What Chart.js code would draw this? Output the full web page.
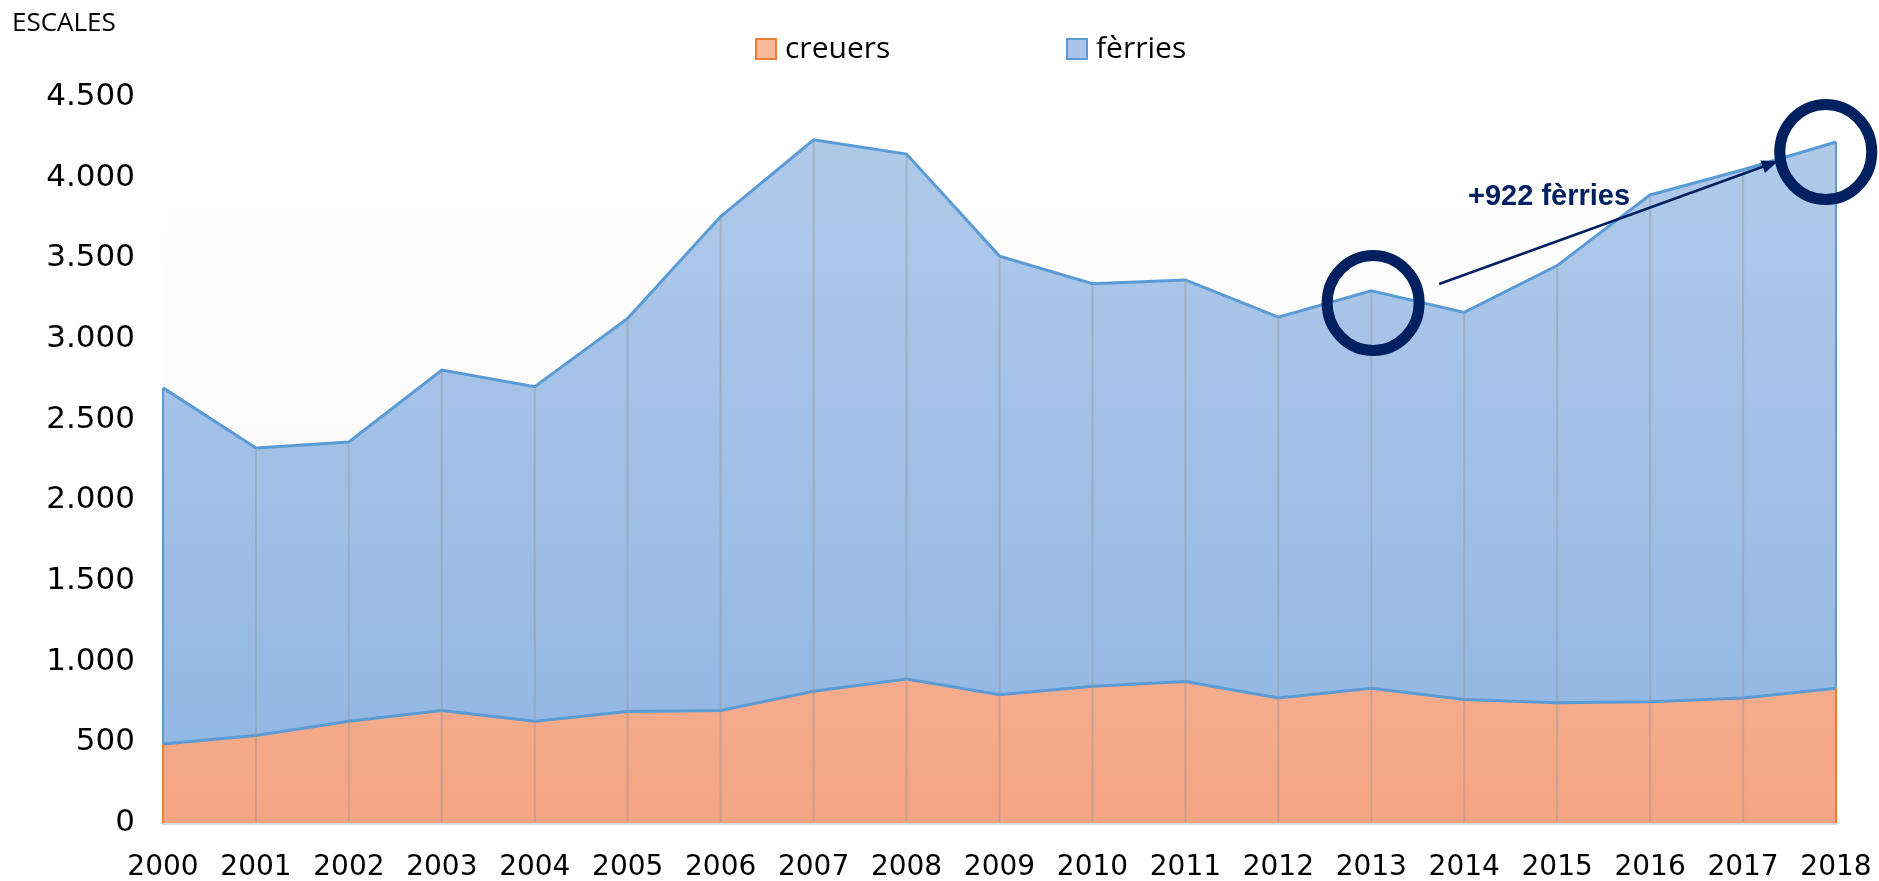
<!DOCTYPE html>
<html>
<head>
<meta charset="utf-8">
<script src="https://cdn.jsdelivr.net/npm/chart.js@4/dist/chart.umd.min.js"></script>
<style>
  html, body { margin: 0; padding: 0; background: #fff; }
</style>
</head>
<body>
<canvas id="chart" width="1879" height="881"></canvas>
<script>
// -----------------------------
// Data
// -----------------------------
const years = ["2000", "2001", "2002", "2003", "2004", "2005", "2006", "2007", "2008", "2009",
  "2010", "2011", "2012", "2013", "2014", "2015", "2016", "2017", "2018"]

const cruiseCalls = [490, 542, 631, 698, 631, 691, 698, 817, 892, 795,
  847, 877, 775, 835, 765, 745, 752, 775, 835]

const ferryCalls = [2207, 1783, 1731, 2110, 2073, 2437, 3061, 3418, 3254, 2719,
  2496, 2489, 2360, 2464, 2400, 2710, 3141, 3274, 3386]

const seriesNames = ["creuers", "fèrries"]
const yTicks = [0, 500, 1000, 1500, 2000, 2500, 3000, 3500, 4000, 4500]

// annotation anchors, in (category index, value) space
const ringAnchors = [[13.02, 3223], [17.89, 4159]]
const arrowFrom = [13.73, 3341]
const arrowTo = [17.38, 4103]
const noteText = "+922 fèrries"

// -----------------------------
// Helpers
// -----------------------------
const FONT = "'Open Sans', 'Noto Sans', sans-serif"
const TICK_FONT = "'DejaVu Sans', sans-serif"
const NAVY = "#002060"

function fmt(v) {
  return String(v).replace(/\B(?=(\d{3})+(?!\d))/g, ".")
}

function vGradient(ctx, area, top, bottom) {
  const g = ctx.createLinearGradient(0, area.top, 0, area.bottom)
  g.addColorStop(0, top)
  g.addColorStop(1, bottom)
  return g
}

function blueFill(c) {
  const a = c.chart.chartArea
  if (!a) return "#a7c3e7"
  return vGradient(c.chart.ctx, a, "#b2cbea", "#8fb5e2")
}

function orangeFill(c) {
  const a = c.chart.chartArea
  if (!a) return "#f6b496"
  return vGradient(c.chart.ctx, a, "#fad0bd", "#f4a482")
}

// -----------------------------
// Plugins
// -----------------------------
const plotBg = {
  id: "plotBg",
  beforeDatasetsDraw(chart) {
    const { ctx, chartArea: a } = chart
    ctx.save()
    ctx.fillStyle = vGradient(ctx, a, "#ffffff", "#f5f5f5")
    ctx.fillRect(a.left, a.top, a.right - a.left, a.bottom - a.top)
    ctx.restore()
  }
}

const dropLines = {
  id: "dropLines",
  afterDatasetsDraw(chart) {
    const { ctx } = chart
    const low = chart.getDatasetMeta(0).data
    const high = chart.getDatasetMeta(1).data
    const bottom = chart.scales.y.getPixelForValue(0)
    const last = high.length - 1
    ctx.save()
    ctx.lineWidth = 2
    high.forEach((p, i) => {
      if (i === 0 || i === last) return
      ctx.strokeStyle = "rgba(150,150,150,0.45)"
      ctx.beginPath()
      ctx.moveTo(p.x, p.y + 2)
      ctx.lineTo(p.x, bottom)
      ctx.stroke()
    })
    ;[0, last].forEach(i => {
      ctx.strokeStyle = "#5b9bd5"
      ctx.beginPath()
      ctx.moveTo(high[i].x, high[i].y)
      ctx.lineTo(high[i].x, low[i].y)
      ctx.stroke()
      ctx.strokeStyle = "#ed7d31"
      ctx.beginPath()
      ctx.moveTo(low[i].x, low[i].y)
      ctx.lineTo(low[i].x, bottom)
      ctx.stroke()
    })
    ctx.restore()
  }
}

const notes = {
  id: "notes",
  afterDatasetsDraw(chart) {
    const { ctx, scales: { x, y } } = chart
    const px = v => {
      const i = Math.floor(v)
      const a = x.getPixelForValue(i)
      const b = x.getPixelForValue(i + 1)
      return a + (b - a) * (v - i)
    }
    ctx.save()
    ctx.strokeStyle = NAVY
    ctx.lineWidth = 11
    ringAnchors.forEach(([vx, vy]) => {
      ctx.beginPath()
      ctx.ellipse(px(vx), y.getPixelForValue(vy), 46, 47.5, 0, 0, Math.PI * 2)
      ctx.stroke()
    })

    const x1 = px(arrowFrom[0]), y1 = y.getPixelForValue(arrowFrom[1])
    const x2 = px(arrowTo[0]), y2 = y.getPixelForValue(arrowTo[1])
    const ang = Math.atan2(y2 - y1, x2 - x1)
    const head = 18
    ctx.lineWidth = 2.5
    ctx.beginPath()
    ctx.moveTo(x1, y1)
    ctx.lineTo(x2 - Math.cos(ang) * head * 0.8, y2 - Math.sin(ang) * head * 0.8)
    ctx.stroke()
    ctx.fillStyle = NAVY
    ctx.beginPath()
    ctx.moveTo(x2, y2)
    ctx.lineTo(x2 - head * Math.cos(ang - 0.38), y2 - head * Math.sin(ang - 0.38))
    ctx.lineTo(x2 - head * Math.cos(ang + 0.38), y2 - head * Math.sin(ang + 0.38))
    ctx.closePath()
    ctx.fill()

    ctx.font = "bold 29px 'Liberation Sans', Arial, sans-serif"
    ctx.textBaseline = "middle"
    ctx.textAlign = "left"
    ctx.fillText(noteText, 1468, 197)

    // axis title
    ctx.fillStyle = "#000"
    ctx.font = "26px " + FONT
    ctx.fillText("ESCALES", 12, 24)
    ctx.restore()
  }
}

const legendRow = {
  id: "legendRow",
  afterDraw(chart) {
    const { ctx } = chart
    const items = [
      { x: 755, fill: "#f8b99c", stroke: "#ed7d31" },
      { x: 1066, fill: "#a9c4e8", stroke: "#5b9bd5" }
    ]
    ctx.save()
    ctx.font = "30px " + FONT
    ctx.textBaseline = "middle"
    items.forEach((it, i) => {
      ctx.fillStyle = it.fill
      ctx.fillRect(it.x, 38, 22, 22)
      ctx.strokeStyle = it.stroke
      ctx.lineWidth = 2
      ctx.strokeRect(it.x + 1, 39, 20, 20)
      ctx.fillStyle = "#000"
      ctx.fillText(seriesNames[i], it.x + 30, 49)
    })
    ctx.restore()
  }
}

// -----------------------------
// Chart
// -----------------------------
new Chart(document.getElementById("chart"), {
  type: "line",
  data: {
    labels: years,
    datasets: [
      {
        label: seriesNames[0],
        data: cruiseCalls,
        fill: "origin",
        backgroundColor: orangeFill,
        borderColor: "#5b9bd5",
        borderWidth: 3,
        pointRadius: 0,
        tension: 0
      },
      {
        label: seriesNames[1],
        data: ferryCalls,
        fill: "-1",
        backgroundColor: blueFill,
        borderColor: "#5b9bd5",
        borderWidth: 3,
        pointRadius: 0,
        tension: 0
      }
    ]
  },
  options: {
    responsive: false,
    animation: false,
    devicePixelRatio: 1,
    layout: { padding: { left: 0, top: 97, right: 43, bottom: 0 } },
    plugins: {
      legend: { display: false },
      tooltip: { enabled: false }
    },
    scales: {
      x: {
        grid: { display: false, drawTicks: false },
        border: { display: true, color: "#d9d9d9", width: 3 },
        ticks: {
          color: "#000",
          font: { family: TICK_FONT, size: 28 },
          padding: 28,
          maxRotation: 0,
          autoSkip: false
        },
        afterFit(s) {
          s.height = 58
          s.paddingLeft = 0
          s.paddingRight = 0
        }
      },
      y: {
        stacked: true,
        min: 0,
        max: 4500,
        afterBuildTicks(s) { s.ticks = yTicks.map(v => ({ value: v })) },
        grid: { display: false, drawTicks: false },
        border: { display: false },
        ticks: {
          color: "#000",
          font: { family: TICK_FONT, size: 31 },
          padding: 28,
          callback: v => fmt(v)
        },
        afterFit(s) {
          s.width = 163
          s.paddingTop = 0
          s.paddingBottom = 0
        }
      }
    }
  },
  plugins: [plotBg, dropLines, notes, legendRow]
})
</script>
</body>
</html>
